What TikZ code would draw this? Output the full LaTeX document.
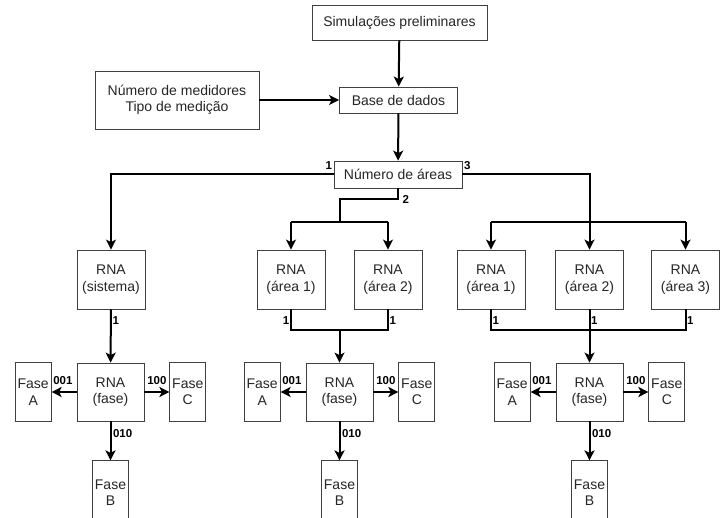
\documentclass[tikz,border=0pt]{standalone}
\usepackage{fontspec}
\setmainfont{Liberation Sans}
\usetikzlibrary{arrows.meta,calc}

\begin{document}
\begin{tikzpicture}[x=1pt, y=-1pt,
    box/.style={draw=black!75, line width=0.8pt, fill=white, text=black!85,
        align=center, inner sep=0pt, font=\fontsize{14}{16.5}\selectfont},
    rna/.style={box, minimum width=68pt, minimum height=59pt},
    fase/.style={box, minimum width=36pt, minimum height=59pt},
    wire/.style={line width=2pt},
    arr/.style={wire, -{Stealth[length=10pt, width=10pt, inset=2.5pt]}},
    lbl/.style={font=\fontsize{11.5}{13}\selectfont\bfseries, inner sep=1.5pt}]
    \path [use as bounding box, clip] (0,0) rectangle (728,518);

    % top of the chart
    \node [box, minimum width=175pt, minimum height=35pt] (sim) at (399.5,22.5) {Simulações preliminares};
    \node [box, minimum width=118pt, minimum height=26pt] (base) at (398.5,100) {Base de dados};
    \node [box, minimum width=164pt, minimum height=58pt] (med) at (177,100) {Número de medidores\\Tipo de medição};
    \node [box, minimum width=128pt, minimum height=27pt] (areas) at (398,174.5) {Número de áreas};
    \draw [arr] (sim) -- (base);
    \draw [arr] (med) -- (base);
    \draw [arr] (base) -- (areas);

    % networks per area
    \foreach \n/\x/\t in {sis/111/sistema, a2l/291/área 1, a2r/388/área 2,
                          a3l/491/área 1, a3m/589.5/área 2, a3r/685.5/área 3} {
        \node [rna] (\n) at (\x,279.5) {RNA\\(\t)};
    }

    % 1 area
    \draw [arr] (areas.west) -| (sis.north);
    \node [lbl, anchor=south east] (n1) at ([yshift=3pt]areas.west) {1};

    % 2 areas
    \coordinate (bus2) at ($(a2l.north)!0.5!(a2r.north)+(0,-28)$);
    \draw [wire] (areas.south) -- ++(0,11) -| (bus2);
    \draw [wire] (bus2 -| a2l.north) -- (bus2 -| a2r.north);
    \foreach \n in {a2l, a2r}
        \draw [arr] (bus2 -| \n.north) -- (\n.north);
    \node [lbl, anchor=west] (n2) at ([xshift=3pt, yshift=-11pt]areas.south) {2};

    % 3 areas
    \coordinate (bus3) at ($(a3m.north)+(0,-28)$);
    \draw [wire] (areas.east) -| (bus3);
    \draw [wire] (bus3 -| a3l.north) -- (bus3 -| a3r.north);
    \foreach \n in {a3l, a3m, a3r}
        \draw [arr] (bus3 -| \n.north) -- (\n.north);
    \node [lbl, anchor=south west] (n3) at ([yshift=3pt]areas.east) {3};

    % phase networks
    \foreach \i/\x in {1/110.5, 2/339.5, 3/589.5} {
        \node [rna, minimum width=67pt, minimum height=58pt] (fase\i) at (\x,392) {RNA\\(fase)};
        \node [fase, anchor=east] (A\i) at ([xshift=-25pt]fase\i.west) {Fase\\A};
        \node [fase, anchor=west] (C\i) at ([xshift=25pt]fase\i.east) {Fase\\C};
        \node [fase, anchor=north, minimum height=64pt] (B\i) at ([yshift=-39pt]fase\i.south) {Fase\\B};
        \draw [arr] (fase\i.west) -- (A\i.east) node [lbl, pos=0.55, above=5pt] (la\i) {001};
        \draw [arr] (fase\i.east) -- (C\i.west) node [lbl, pos=0.5, above=5pt] (lc\i) {100};
        \draw [arr] (fase\i.south) -- (B\i.north) node [lbl, pos=0.3, right] (lb\i) {010};
    }

    % from area networks to phase networks
    \draw [arr] (sis) -- (fase1);
    \node [lbl, anchor=west] (m1) at ([yshift=-11pt]sis.south) {1};

    \coordinate (join2) at ($(a2l.south)!0.5!(a2r.south)+(0,21)$);
    \draw [wire] (a2l.south) |- (join2 -| a2r.south) -- (a2r.south);
    \draw [arr] (join2) -- (fase2.north);
    \node [lbl, anchor=east] (m2) at ([yshift=-11pt]a2l.south) {1};
    \node [lbl, anchor=west] (m3) at ([yshift=-11pt]a2r.south) {1};

    \coordinate (join3) at ($(a3m.south)+(0,21)$);
    \draw [wire] (a3l.south) |- (join3 -| a3r.south) -- (a3r.south);
    \draw [arr] (a3m.south) -- (fase3.north);
    \foreach \n in {a3l, a3m, a3r}
        \node [lbl, anchor=west] (m\n) at ([yshift=-11pt]\n.south) {1};
\end{tikzpicture}
\end{document}
